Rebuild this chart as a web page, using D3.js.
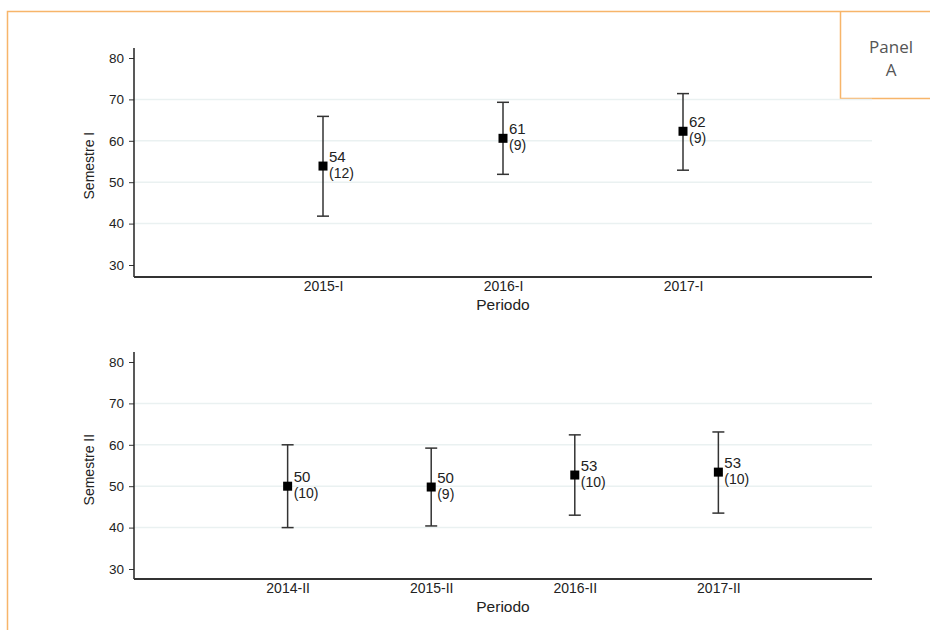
<!DOCTYPE html>
<html>
<head>
<meta charset="utf-8">
<script src="https://cdn.jsdelivr.net/npm/d3@7"></script>
<style>
  body { margin: 0; background: #fff; }
  svg { display: block; font-family: "Liberation Sans", Arial, sans-serif; }
</style>
</head>
<body>
<svg id="chart" width="930" height="630"></svg>
<script>
// Semestre I
const periodsI = ["2015-I", "2016-I", "2017-I"];
const meanI = [53.9, 60.6, 62.3];
const lowI = [41.8, 51.9, 52.9];
const highI = [65.9, 69.3, 71.4];
const labelI = ["54", "61", "62"];
const nI = [12, 9, 9];

// Semestre II
const periodsII = ["2014-II", "2015-II", "2016-II", "2017-II"];
const meanII = [50.0, 49.8, 52.7, 53.4];
const lowII = [40.0, 40.4, 43.0, 43.5];
const highII = [60.0, 59.2, 62.4, 63.1];
const labelII = ["50", "50", "53", "53"];
const nII = [10, 9, 10, 10];

const yTicks = [30, 40, 50, 60, 70, 80];
const gridTicks = [40, 50, 60, 70];

const svg = d3.select("#chart");
const orange = "#f7b56a";

// outer frame
svg.append("path")
    .attr("d", "M7.5,630 V11.5 H930")
    .attr("fill", "none")
    .attr("stroke", orange)
    .attr("stroke-width", 1.5);

svg.append("path")
    .attr("d", "M840.5,11.5 V98.5 H930")
    .attr("fill", "none")
    .attr("stroke", orange)
    .attr("stroke-width", 1.5);

svg.append("text")
    .attr("x", 891).attr("y", 53)
    .attr("text-anchor", "middle")
    .style("font-family", "'Open Sans', sans-serif")
    .style("font-size", "17px")
    .style("fill", "#555")
    .text("Panel");
svg.append("text")
    .attr("x", 891).attr("y", 76)
    .attr("text-anchor", "middle")
    .style("font-family", "'Open Sans', sans-serif")
    .style("font-size", "17px")
    .style("fill", "#555")
    .text("A");

function drawPanel(cfg) {
    const rows = cfg.periods.map((p, i) => ({
        p, mean: cfg.mean[i], low: cfg.low[i], high: cfg.high[i], label: cfg.label[i], n: cfg.n[i]
    }));

    const left = 134, right = 872;
    const x = d3.scalePoint().domain(cfg.periods).range([left, right]).padding(cfg.pad);
    const y = d3.scaleLinear().domain([30, 80]).range([cfg.y30, cfg.y80]);

    const g = svg.append("g");

    g.selectAll("line.grid")
        .data(gridTicks)
        .enter()
        .append("line")
        .attr("class", "grid")
        .attr("x1", left).attr("x2", right)
        .attr("y1", d => y(d)).attr("y2", d => y(d))
        .attr("stroke", "#eaf1f1")
        .attr("stroke-width", 1.5);

    // y axis
    const yAxis = g.append("g")
        .attr("transform", `translate(${left},0)`)
        .call(d3.axisLeft(y).tickValues(yTicks).tickSize(5).tickPadding(5));
    yAxis.select(".domain").remove();
    yAxis.selectAll(".tick line").attr("stroke", "#333");
    yAxis.selectAll("text")
        .style("font-family", "'Liberation Sans', Arial, sans-serif")
        .style("font-size", "13.5px")
        .style("fill", "#222");
    g.append("line")
        .attr("x1", left).attr("x2", left)
        .attr("y1", cfg.top).attr("y2", cfg.base)
        .attr("stroke", "#222").attr("stroke-width", 1.5);

    // x axis
    g.append("line")
        .attr("x1", left).attr("x2", right)
        .attr("y1", cfg.base).attr("y2", cfg.base)
        .attr("stroke", "#333").attr("stroke-width", 2);
    const xAxis = g.append("g")
        .attr("transform", `translate(0,${cfg.base})`)
        .call(d3.axisBottom(x).tickSize(0).tickPadding(4));
    xAxis.select(".domain").remove();
    xAxis.selectAll("text")
        .style("font-family", "'Liberation Sans', Arial, sans-serif")
        .style("font-size", "14px")
        .style("fill", "#222");

    g.append("text")
        .attr("x", 503).attr("y", cfg.base + 33)
        .attr("text-anchor", "middle")
        .style("font-size", "15.5px")
        .style("fill", "#222")
        .text("Periodo");

    g.append("text")
        .attr("transform", `translate(94,${y(54)}) rotate(-90)`)
        .attr("text-anchor", "middle")
        .style("font-size", "14px")
        .style("fill", "#222")
        .text(cfg.title);

    // error bars
    const bars = g.selectAll("g.bar")
        .data(rows)
        .enter()
        .append("g")
        .attr("class", "bar");

    bars.append("line")
        .attr("x1", d => x(d.p)).attr("x2", d => x(d.p))
        .attr("y1", d => y(d.low)).attr("y2", d => y(d.high))
        .attr("stroke", "#333").attr("stroke-width", 1.5);
    bars.append("line")
        .attr("x1", d => x(d.p) - 6).attr("x2", d => x(d.p) + 6)
        .attr("y1", d => y(d.low)).attr("y2", d => y(d.low))
        .attr("stroke", "#333").attr("stroke-width", 1.5);
    bars.append("line")
        .attr("x1", d => x(d.p) - 6).attr("x2", d => x(d.p) + 6)
        .attr("y1", d => y(d.high)).attr("y2", d => y(d.high))
        .attr("stroke", "#333").attr("stroke-width", 1.5);
    bars.append("rect")
        .attr("x", d => x(d.p) - 4.5).attr("y", d => y(d.mean) - 4.5)
        .attr("width", 9).attr("height", 9)
        .attr("fill", "#000");

    bars.append("text")
        .attr("x", d => x(d.p) + 6)
        .attr("y", d => y(d.mean) - 4)
        .style("font-size", "15px")
        .style("fill", "#222")
        .text(d => d.label);
    bars.append("text")
        .attr("x", d => x(d.p) + 6)
        .attr("y", d => y(d.mean) + 12)
        .style("font-size", "14px")
        .style("fill", "#222")
        .text(d => `(${d.n})`);
}

drawPanel({
    periods: periodsI, mean: meanI, low: lowI, high: highI, label: labelI, n: nI,
    title: "Semestre I", pad: 1.05, y30: 265, y80: 58, top: 48, base: 277
});

drawPanel({
    periods: periodsII, mean: meanII, low: lowII, high: highII, label: labelII, n: nII,
    title: "Semestre II", pad: 1.07, y30: 569, y80: 362, top: 352, base: 579
});
</script>
</body>
</html>
